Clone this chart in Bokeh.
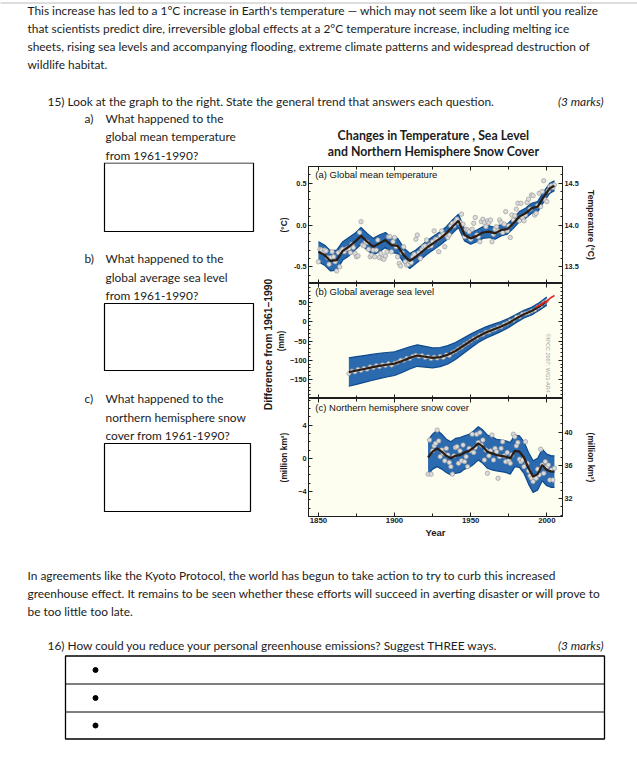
import math
from bokeh.plotting import figure
from bokeh.models import Range1d, LinearAxis, FixedTicker, Label, PrintfTickFormatter
from bokeh.layouts import column, row
from bokeh.embed import file_html
from bokeh.resources import INLINE
from bokeh.core.properties import value

# ---------------- data ----------------
temp_years = list(range(1850, 2006))
temp_annual = [
    -0.44, -0.29, -0.30, -0.33, -0.30, -0.31, -0.39, -0.47, -0.39, -0.32,
    -0.38, -0.44, -0.55, -0.33, -0.50, -0.31, -0.29, -0.32, -0.29, -0.28,
    -0.28, -0.33, -0.23, -0.27, -0.34, -0.38, -0.37, -0.09, 0.04, -0.24,
    -0.25, -0.20, -0.21, -0.29, -0.38, -0.36, -0.30, -0.38, -0.30, -0.18,
    -0.39, -0.34, -0.40, -0.41, -0.37, -0.32, -0.14, -0.14, -0.32, -0.20,
    -0.15, -0.26, -0.38, -0.46, -0.49, -0.33, -0.26, -0.44, -0.48, -0.47,
    -0.44, -0.45, -0.38, -0.35, -0.17, -0.12, -0.33, -0.40, -0.29, -0.26,
    -0.25, -0.18, -0.26, -0.24, -0.25, -0.20, -0.07, -0.17, -0.17, -0.32,
    -0.13, -0.07, -0.11, -0.26, -0.12, -0.15, -0.12, -0.01, 0.02, -0.01,
    0.04, 0.07, 0.03, 0.03, 0.13, 0.01, -0.14, -0.05, -0.06, -0.08,
    -0.17, -0.05, 0.02, 0.09, -0.12, -0.14, -0.20, 0.04, 0.07, 0.03,
    -0.02, 0.05, 0.03, 0.06, -0.20, -0.11, -0.05, -0.02, -0.07, 0.06,
    0.03, -0.09, 0.01, 0.16, -0.07, -0.01, -0.15, 0.12, 0.06, 0.11,
    0.19, 0.26, 0.05, 0.26, 0.09, 0.05, 0.12, 0.27, 0.31, 0.19,
    0.36, 0.35, 0.12, 0.14, 0.23, 0.38, 0.22, 0.40, 0.53, 0.30,
    0.28, 0.41, 0.46, 0.47, 0.45, 0.48]
temp_smooth_years = [1850, 1854, 1858, 1862, 1866, 1870, 1874, 1878, 1882, 1886,
                     1890, 1894, 1898, 1902, 1906, 1910, 1914, 1918, 1922, 1926,
                     1930, 1934, 1938, 1942, 1946, 1950, 1954, 1958, 1962, 1966,
                     1970, 1974, 1978, 1982, 1986, 1990, 1994, 1998, 2002, 2005]
temp_smooth = [-0.32, -0.36, -0.43, -0.42, -0.31, -0.26, -0.20, -0.13, -0.20, -0.26,
               -0.22, -0.18, -0.24, -0.25, -0.36, -0.43, -0.38, -0.32, -0.26, -0.21,
               -0.16, -0.10, -0.02, 0.05, -0.12, -0.16, -0.13, -0.09, -0.08, -0.10,
               -0.06, -0.05, 0.02, 0.10, 0.14, 0.20, 0.22, 0.34, 0.44, 0.47]
temp_band = [0.12, 0.12, 0.12, 0.12, 0.11, 0.11, 0.10, 0.10, 0.10, 0.10,
             0.10, 0.09, 0.09, 0.09, 0.09, 0.09, 0.08, 0.08, 0.08, 0.08,
             0.08, 0.08, 0.08, 0.08, 0.07, 0.07, 0.07, 0.07, 0.07, 0.07,
             0.07, 0.06, 0.06, 0.06, 0.06, 0.06, 0.06, 0.06, 0.06, 0.06]

sea_years = list(range(1870, 2001, 2))
sea_annual = [-135, -128, -131, -124, -127, -121, -124, -117, -120, -114,
              -117, -112, -114, -109, -113, -108, -106, -100, -101, -95,
              -96, -90, -87, -90, -88, -93, -91, -96, -92, -95,
              -90, -93, -86, -88, -80, -76, -70, -66, -60, -55,
              -50, -44, -41, -35, -33, -27, -26, -21, -19, -14,
              -13, -7, -4, 2, 4, 12, 13, 20, 22, 24,
              28, 31, 38, 42, 50, 55]
sea_smooth_years = [1870, 1875, 1880, 1885, 1890, 1895, 1900, 1905, 1910, 1915,
                    1920, 1925, 1930, 1935, 1940, 1945, 1950, 1955, 1960, 1965,
                    1970, 1975, 1980, 1985, 1990, 1995, 2000]
sea_smooth = [-131, -127, -123, -119, -115, -112, -109, -102, -94, -88,
              -91, -94, -92, -86, -76, -63, -50, -38, -28, -20,
              -12, -3, 9, 20, 28, 40, 54]
sea_band = [37, 36, 35, 34, 33, 32, 31, 30, 29, 28,
            27, 26, 25, 24, 22, 20, 18, 16, 15, 14,
            13, 12, 11, 10, 10, 10, 11]
sat_years = list(range(1993, 2006))
sat_level = [38, 41, 43, 44, 47, 51, 50, 54, 57, 61, 64, 66, 69]

snow_years = list(range(1922, 2006))
snow_annual = [-1.9, 2.2, -1.9, 0.9, 1.5, 1.8, 3.4, 2.1, 0.2, 1.0,
               0.6, -0.3, 1.2, 0.4, -0.5, -1.0, -1.9, 0.3, 1.3, 1.4,
               -0.6, 0.9, -0.3, 1.6, -0.4, 0.2, -1.0, 1.2, 0.9, 2.9,
               0.7, 1.3, 2.9, 1.9, 3.1, 1.6, 2.2, -0.2, 1.0, -1.8,
               0.3, 0.9, 2.8, -0.2, 1.2, 0.8, -2.4, 0.2, 1.2, 2.0,
               0.3, -0.4, 0.7, -0.3, -0.6, 0.4, 2.9, 2.6, 1.5, 1.9,
               -0.1, -0.4, -0.2, -1.0, 2.0, -0.6, -1.5, -2.1, -2.4, -2.8,
               -2.3, -2.4, -1.3, -2.0, 1.1, -0.8, -1.8, -0.4, -1.0, -0.8,
               -2.6, -1.4, -2.6, -1.2]
snow_smooth_years = [1922, 1925, 1928, 1931, 1934, 1937, 1940, 1943, 1946, 1949,
                     1952, 1955, 1958, 1961, 1964, 1967, 1970, 1973, 1976, 1979,
                     1982, 1985, 1988, 1991, 1994, 1997, 2000, 2003, 2005]
snow_smooth = [0.1, 0.8, 1.2, 0.8, 0.3, 0.0, 0.3, 0.4, 0.7, 0.9,
               1.3, 1.8, 1.4, 0.8, 0.6, 0.4, 0.3, 0.2, 0.0, 0.9,
               0.8, 0.1, -1.2, -2.2, -1.9, -0.8, -1.4, -1.6, -1.6]
snow_band = [2.1, 2.1, 2.2, 2.1, 2.0, 2.0, 2.1, 2.1, 2.0, 2.0,
             2.0, 2.0, 2.0, 2.0, 2.0, 1.9, 1.9, 1.9, 1.9, 1.9,
             1.9, 1.9, 1.9, 1.9, 1.9, 1.9, 1.9, 1.9, 1.9]

x_ticks = [1850, 1900, 1950, 2000]
x_minor = [1825, 1875, 1925, 1975, 2025]
temp_ticks = [-0.5, 0.0, 0.5]
temp_right_ticks = [13.5, 14.0, 14.5]
sea_ticks = [-150, -100, -50, 0, 50]
snow_ticks = [-4, 0, 4]
snow_right_ticks = [32, 36, 40]

# ---------------- page texts ----------------
intro_lines = [
    "This increase has led to a 1\u00b0C increase in Earth's temperature \u2014 which may not seem like a lot until you realize",
    "that scientists predict dire, irreversible global effects at a 2\u00b0C temperature increase, including melting ice",
    "sheets, rising sea levels and accompanying flooding, extreme climate patterns and widespread destruction of",
    "wildlife habitat."]
q15 = "15) Look at the graph to the right. State the general trend that answers each question."
marks = "(3 marks)"
qa = ["What happened to the", "global mean temperature", "from 1961-1990?"]
qb = ["What happened to the", "global average sea level", "from 1961-1990?"]
qc = ["What happened to the", "northern hemisphere snow", "cover from 1961-1990?"]
chart_title = ["Changes in Temperature , Sea Level", "and Northern Hemisphere Snow Cover"]
outro_lines = [
    "In agreements like the Kyoto Protocol, the world has begun to take action to try to curb this increased",
    "greenhouse effect. It remains to be seen whether these efforts will succeed in averting disaster or will prove to",
    "be too little too late."]
q16 = "16) How could you reduce your personal greenhouse emissions? Suggest THREE ways."

BODY_FONT = "Lato"
BODY_SIZE = "11.9px"
TXT = "#1c1c1c"
PAGE_W = 637


def canvas(x0, x1, y0, y1):
    p = figure(width=x1 - x0, height=y1 - y0, x_range=Range1d(x0, x1), y_range=Range1d(y1, y0),
               x_axis_type=None, y_axis_type=None, toolbar_location=None, output_backend="svg",
               min_border=0)
    p.outline_line_color = None
    p.background_fill_color = "white"
    p.border_fill_color = "white"
    return p


def put(p, xs, ys, texts, size=BODY_SIZE, style="normal", align="left", font=BODY_FONT,
        color=TXT, angle=0.0):
    p.text(x=xs, y=ys, text=texts, text_font=value(font), text_font_size=value(size),
           text_font_style=value(style), text_align=value(align), text_baseline=value("middle"),
           text_color=color, angle=angle)


# ---------------- top part ----------------
TOP_END = 162
top = canvas(0, PAGE_W, 0, TOP_END)
top.line([0, PAGE_W], [2.5, 2.5], line_color="#777777", line_dash="1 1", line_width=1)
put(top, [27] * 4, [10, 28, 46, 64], intro_lines)
put(top, [47], [101], [q15])
put(top, [603], [101], [marks], style="italic", align="right")
put(top, [84], [118], ["a)"])
put(top, [105] * 3, [118, 136, 155], qa)
put(top, [433, 433], [135, 151], chart_title, size="12.3px", style="bold", align="center")

# ---------------- left column ----------------
LEFT_END = 273
ROW_END = 541
left = canvas(0, LEFT_END, TOP_END, ROW_END)
box_l = [104, 104, 104]
box_r = [253, 253, 250]
box_t = [162.5, 303, 443]
box_b = [231, 370, 511]
left.quad(left=box_l, right=box_r, top=box_t, bottom=box_b, fill_color=None,
          line_color="black", line_width=1.2)
put(left, [84], [258], ["b)"])
put(left, [105] * 3, [258, 277, 295], qb)
put(left, [84], [398], ["c)"])
put(left, [105] * 3, [398, 417, 435], qc)
put(left, [268], [344], ["Difference from 1961\u20131990"], size="10.4px", style="bold",
    align="center", font="Liberation Sans", angle=math.pi / 2)

# ---------------- chart panels ----------------
CHART_W = PAGE_W - LEFT_END
LB = 304 - LEFT_END
RB = PAGE_W - 562
X0, X1 = 1843.5, 2010.3
AX = "#1e1e1e"
BG = "#fdfdf0"
BAND = "#2b6aae"
BAND_EDGE = "#0c4a8e"
LINE = "#2b1d12"
DOT_FILL = "#dcdcdc"
DOT_LINE = "#9c9c9c"
TICK_SIZE = "7.3px"


def make_panel(height, yr, top_b, bottom_b):
    p = figure(width=CHART_W, height=height, x_range=Range1d(X0, X1), y_range=Range1d(*yr),
               x_axis_type=None, y_axis_type=None, toolbar_location=None, output_backend="svg",
               min_border_left=LB, min_border_right=RB, min_border_top=top_b,
               min_border_bottom=bottom_b)
    p.background_fill_color = BG
    p.border_fill_color = "white"
    p.outline_line_color = AX
    return p


def style_axis(ax, label_size=None, standoff=0, line=True):
    ax.major_tick_in = 4
    ax.major_tick_out = 0
    ax.minor_tick_in = 2
    ax.minor_tick_out = 0
    ax.axis_line_color = AX if line else None
    ax.major_tick_line_color = AX
    ax.minor_tick_line_color = AX
    ax.major_label_text_font = "Liberation Sans"
    ax.major_label_text_font_style = "bold"
    ax.major_label_standoff = standoff
    if label_size is None:
        ax.major_label_text_font_size = "0px"
        ax.major_label_text_color = None
    else:
        ax.major_label_text_font_size = label_size
        ax.major_label_text_color = "#1a1a1a"
    ax.axis_label_text_font = "Liberation Sans"
    ax.axis_label_text_font_style = "bold"
    ax.axis_label_text_font_size = "8.4px"
    ax.axis_label_text_color = "#1a1a1a"
    return ax


def x_axes(p, labels=False):
    ab = LinearAxis(ticker=FixedTicker(ticks=x_ticks, minor_ticks=x_minor))
    style_axis(ab)
    ab.minor_tick_in = 3
    p.add_layout(ab, "above")
    be = LinearAxis(ticker=FixedTicker(ticks=x_ticks, minor_ticks=x_minor))
    if labels:
        style_axis(be, label_size="7.8px", standoff=1)
        be.axis_label = "Year"
        be.axis_label_text_font_size = "9.5px"
        be.axis_label_standoff = 1
    else:
        style_axis(be)
    be.minor_tick_in = 3
    p.add_layout(be, "below")


def series(p, yrs, smooth, band, dots_x, dots_y, dot_size=4.2):
    lo = [s - b for s, b in zip(smooth, band)]
    hi = [s + b for s, b in zip(smooth, band)]
    p.varea(x=yrs, y1=lo, y2=hi, fill_color=BAND)
    p.line(yrs, lo, line_color=BAND_EDGE, line_width=1.2)
    p.line(yrs, hi, line_color=BAND_EDGE, line_width=1.2)
    p.scatter(dots_x, dots_y, marker="circle", size=dot_size, fill_color=DOT_FILL,
              line_color=DOT_LINE, line_width=0.7)
    p.line(yrs, smooth, line_color=LINE, line_width=2.2)


def panel_label(p, x, y, text):
    p.add_layout(Label(x=x, y=y, text=text, text_font="Liberation Sans", text_font_size="9.5px",
                       text_baseline="middle", text_color="#111111"))


# panel (a)
pa = make_panel(4 + 117, (-0.7, 0.7), 4, 0)
pa.extra_y_ranges = {"r": Range1d(13.3, 14.7)}
la = style_axis(LinearAxis(ticker=FixedTicker(ticks=temp_ticks,
                                              minor_ticks=[v / 10 for v in range(-7, 8)]),
                           formatter=PrintfTickFormatter(format="%.1f")),
                label_size=TICK_SIZE, standoff=2)
la.axis_label = "(\u00b0C)"
la.axis_label_standoff = 2
pa.add_layout(la, "left")
ra = style_axis(LinearAxis(y_range_name="r", ticker=FixedTicker(
    ticks=temp_right_ticks, minor_ticks=[13.3 + v / 10 for v in range(15)]),
    formatter=PrintfTickFormatter(format="%.1f")),
    label_size=TICK_SIZE, standoff=2)
ra.axis_label = "Temperature (\u00b0C)"
ra.axis_label_text_font_size = "8.7px"
ra.axis_label_standoff = 4
pa.add_layout(ra, "right")
x_axes(pa)
series(pa, temp_smooth_years, temp_smooth, temp_band, temp_years, temp_annual, 4.4)
panel_label(pa, 1848, 0.60, "(a) Global mean temperature")

# panel (b)
pb = make_panel(115, (-200, 100), 0, 0)
lb = style_axis(LinearAxis(ticker=FixedTicker(ticks=sea_ticks,
                                              minor_ticks=list(range(-200, 101, 10)))),
                label_size=TICK_SIZE, standoff=2)
lb.axis_label = "(mm)"
lb.axis_label_standoff = 1
pb.add_layout(lb, "left")
rb = style_axis(LinearAxis(ticker=FixedTicker(ticks=sea_ticks,
                                              minor_ticks=list(range(-200, 101, 10)))))
pb.add_layout(rb, "right")
x_axes(pb)
series(pb, sea_smooth_years, sea_smooth, sea_band, sea_years, sea_annual, 4.0)
pb.line(sat_years, sat_level, line_color="#e8211b", line_width=1.6)
panel_label(pb, 1848, 78, "(b) Global average sea level")
pb.add_layout(Label(x=2001, y=-108, text="\u00a9IPCC 2007: WG1-AR4", angle=-math.pi / 2,
                    text_font="Liberation Sans", text_font_size="5.5px", text_align="center",
                    text_baseline="middle", text_color="#a0a0a0"))

# panel (c)
pc = make_panel(118 + 25, (-7.0, 7.2), 0, 25)
pc.extra_y_ranges = {"r": Range1d(-7.0 + 36.85, 7.2 + 36.85)}
lc = style_axis(LinearAxis(ticker=FixedTicker(ticks=snow_ticks, minor_ticks=list(range(-7, 8)))),
                label_size=TICK_SIZE, standoff=2)
lc.axis_label = "(million km\u00b2)"
lc.axis_label_standoff = 6
pc.add_layout(lc, "left")
rc = style_axis(LinearAxis(y_range_name="r", ticker=FixedTicker(
    ticks=snow_right_ticks, minor_ticks=list(range(30, 45)))), label_size=TICK_SIZE, standoff=2)
rc.axis_label = "(million km\u00b2)"
rc.axis_label_standoff = 10
pc.add_layout(rc, "right")
x_axes(pc, labels=True)
series(pc, snow_smooth_years, snow_smooth, snow_band, snow_years, snow_annual, 4.4)
panel_label(pc, 1848, 6.1, "(c) Northern hemisphere snow cover")

# ---------------- bottom part ----------------
PAGE_H = 783
bot = canvas(0, PAGE_W, ROW_END, PAGE_H)
put(bot, [27] * 3, [575, 593, 611], outro_lines)
put(bot, [47], [645], [q16])
put(bot, [603], [645], [marks], style="italic", align="right")
bot.quad(left=[65], right=[604], top=[655.5], bottom=[738.5], fill_color=None,
         line_color="black", line_width=1.3)
bot.segment(x0=[65, 65], y0=[683.5, 711.5], x1=[604, 604], y1=[683.5, 711.5],
            line_color="black", line_width=1)
bot.scatter([95, 95, 95], [669.5, 697.5, 725], marker="circle", size=5,
            fill_color="black", line_color="black")

layout = column(top, row(left, column(pa, pb, pc)), bot)
open("out.html", "w").write(file_html(layout, INLINE))
